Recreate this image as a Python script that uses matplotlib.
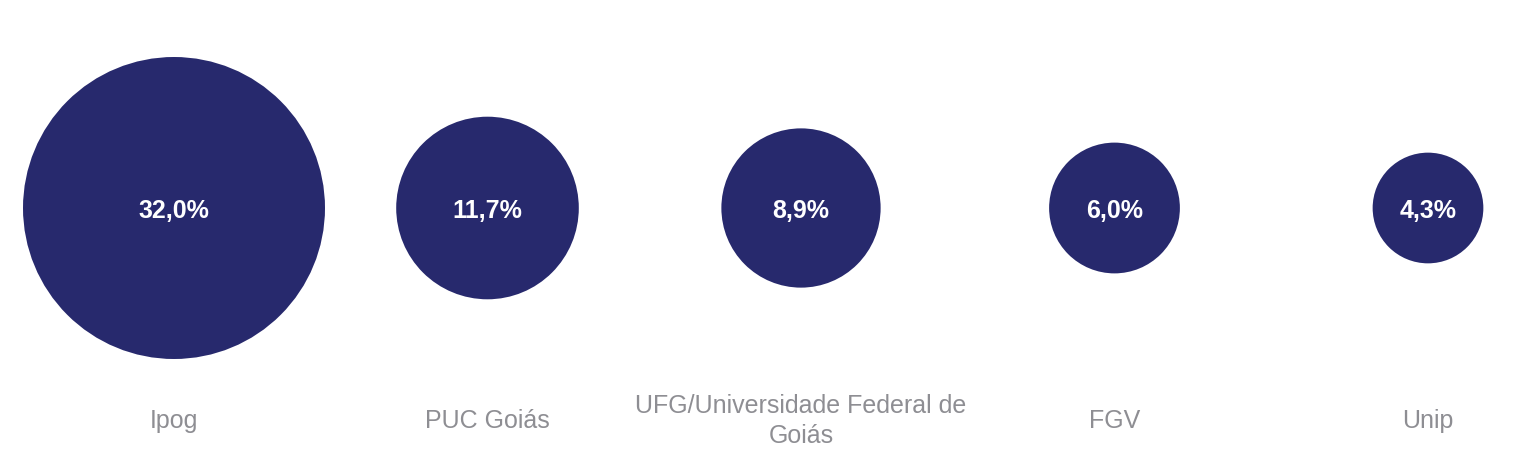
import numpy as np
import matplotlib.pyplot as plt

plt.rcParams['font.family'] = ['Liberation Sans', 'DejaVu Sans']

# share of respondents per institution
institutions = ['Ipog', 'PUC Goiás', 'UFG/Universidade Federal de\nGoiás', 'FGV', 'Unip']
values = [32.0, 11.7, 8.9, 6.0, 4.3]
value_labels = ['32,0%', '11,7%', '8,9%', '6,0%', '4,3%']

W, H, DPI = 1513, 450, 100
fig = plt.figure(figsize=(W / DPI, H / DPI), dpi=DPI)
ax = fig.add_axes([0, 0, 1, 1])

# category i sits at pixel 174 + 313.5*i
step = 313.5
x0 = 174
ax.set_xlim(-x0 / step, (W - x0) / step)
ax.set_ylim(0, H)
ax.invert_yaxis()
ax.axis('off')

x = np.arange(len(values))
# bubble area proportional to value, biggest radius 151 px
r_px = 151 * np.sqrt(np.array(values) / max(values))
sizes = (2 * r_px * 72 / DPI) ** 2
ax.scatter(x, np.full(len(x), 208), s=sizes, c='#27296D', linewidths=0)

for xi, lab in zip(x, value_labels):
    ax.text(xi, 211, lab, ha='center', va='center', color='white',
            fontsize=18, fontweight='bold')

for xi, name in zip(x, institutions):
    ax.text(xi, 421, name, ha='center', va='center', color='#8E8E93',
            fontsize=18, linespacing=1.35)

fig.savefig('out.png', dpi=DPI)
